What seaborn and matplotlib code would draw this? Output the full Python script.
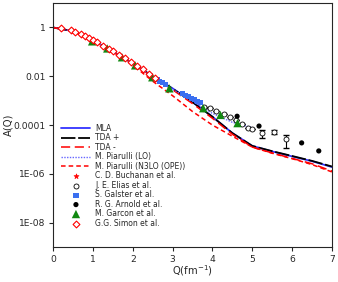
import numpy as np
import pandas as pd
import matplotlib
matplotlib.use("Agg")
import matplotlib.pyplot as plt
import seaborn as sns

# ---- theory curves (Q in fm^-1, A(Q)) ----
q_main = [0, 0.5, 1, 1.5, 2, 2.5, 3, 3.5, 4, 4.5, 5, 5.5, 6, 6.5, 7]
a_mla = [1.0, 0.71, 0.30, 0.105, 0.034, 0.010, 3.2e-3, 8.9e-4, 2.2e-4, 4.7e-5,
         1.4e-5, 8.3e-6, 5.2e-6, 3.3e-6, 1.9e-6]
a_tdap = [1.0, 0.71, 0.30, 0.105, 0.034, 0.010, 3.1e-3, 8.7e-4, 2.2e-4, 4.7e-5,
          1.4e-5, 8.5e-6, 5.4e-6, 3.4e-6, 2.0e-6]
a_tdam = [1.0, 0.71, 0.30, 0.104, 0.033, 0.0095, 2.8e-3, 7.6e-4, 1.9e-4, 4.2e-5,
          1.25e-5, 7.2e-6, 4.3e-6, 2.6e-6, 1.3e-6]
q_lo = [0, 0.5, 1, 1.5, 2, 2.5, 3, 3.5, 4, 4.5, 5]
a_lo = [1.0, 0.71, 0.30, 0.105, 0.034, 0.0098, 3.0e-3, 9.5e-4, 3.0e-4, 1.3e-4, 7.8e-5]
q_n3 = [0, 0.5, 1, 1.5, 2, 2.5, 3, 3.5, 4, 4.5, 5, 5.5, 6, 6.5, 7]
a_n3 = [1.0, 0.70, 0.29, 0.098, 0.029, 6.3e-3, 1.6e-3, 3.6e-4, 1.0e-4, 3.5e-5,
        1.25e-5, 7.0e-6, 4.2e-6, 2.4e-6, 1.2e-6]

# ---- experimental data ----
q_buch = [0.5, 0.7, 0.9]
a_buch = [0.72, 0.52, 0.36]
q_elias = [3.8, 3.95, 4.1, 4.3, 4.45, 4.6, 4.75, 4.9, 5.0, 5.25, 5.55, 5.85]
a_elias = [5.6e-4, 4.8e-4, 3.8e-4, 2.8e-4, 2.1e-4, 1.6e-4, 1.1e-4, 7.9e-5,
           7.0e-5, 4.7e-5, 5.1e-5, 2.7e-5]
e_elias_lo = [0, 0, 0, 0, 0, 0, 0, 0, 0, 1.7e-5, 8e-6, 1.5e-5]
e_elias_hi = [0, 0, 0, 0, 0, 0, 0, 0, 0, 1.6e-5, 1.2e-5, 1.3e-5]
q_galster = [2.55, 2.62, 2.68, 2.75, 2.82, 3.25, 3.32, 3.4, 3.48, 3.55, 3.62, 3.7]
a_galster = [8.3e-3, 7.2e-3, 6.3e-3, 5.4e-3, 4.7e-3, 1.9e-3, 1.66e-3, 1.45e-3,
             1.26e-3, 1.1e-3, 9.5e-4, 8.3e-4]
q_arnold = [4.62, 5.17, 6.24, 6.67]
a_arnold = [2.3e-4, 9.1e-5, 1.86e-5, 8.7e-6]
q_garcon = [0.98, 1.36, 1.73, 2.06, 2.49, 2.92, 3.77, 4.2, 4.63]
a_garcon = [0.27, 0.138, 0.060, 0.028, 9.1e-3, 3.2e-3, 4.9e-4, 2.6e-4, 1.2e-4]
q_simon = [0.2, 0.45, 0.55, 0.7, 0.8, 0.9, 1.0, 1.1, 1.25, 1.4, 1.5, 1.65,
           1.8, 1.95, 2.1, 2.25, 2.4, 2.55]
a_simon = [0.95, 0.76, 0.66, 0.52, 0.44, 0.36, 0.30, 0.245, 0.18, 0.13, 0.105,
           0.074, 0.054, 0.038, 0.027, 0.019, 0.0126, 0.0089]

xticks = [0, 1, 2, 3, 4, 5, 6, 7]
yticks = [1, 1e-2, 1e-4, 1e-6, 1e-8]
ytick_labels = ["1", "0.01", "0.0001", "1E-06", "1E-08"]

sns.set_style("ticks")
plt.rcParams['font.family'] = ['DejaVu Sans']

fig = plt.figure(figsize=(3.38, 2.82), dpi=100)
ax = fig.add_axes([0.157, 0.124, 0.825, 0.865])

def line(q, a, label, **kw):
    df = pd.DataFrame({"Q": q, "A": a})
    sns.lineplot(data=df, x="Q", y="A", ax=ax, label=label, **kw)

line(q_main, a_mla, "MLA", color="#3333ff", lw=1.3)
line(q_main, a_tdap, "TDA +", color="black", lw=1.3, dashes=(8, 1.5))
line(q_main, a_tdam, "TDA -", color="red", lw=1.1, dashes=(6, 3))
line(q_lo, a_lo, "M. Piarulli (LO)", color="#6666ff", lw=1.0, dashes=(1, 1))
line(q_n3, a_n3, "M. Piarulli (N3LO (OPE))", color="red", lw=1.1, dashes=(3, 2))

def pts(q, a, label, **kw):
    df = pd.DataFrame({"Q": q, "A": a})
    sns.scatterplot(data=df, x="Q", y="A", ax=ax, label=label, **kw)

pts(q_buch, a_buch, "C. D. Buchanan et al.", marker="*", color="red", s=14,
    edgecolor="red", linewidth=0.5, zorder=3)
ax.errorbar(q_elias, a_elias, yerr=[e_elias_lo, e_elias_hi], fmt="none",
            ecolor="black", elinewidth=0.8, capsize=2, zorder=3)
pts(q_elias, a_elias, "J. E. Elias et al.", marker="o", facecolor="white",
    edgecolor="black", s=13, linewidth=0.6, zorder=4)
pts(q_galster, a_galster, "S. Galster et al.", marker="s", color="#3a6ff0",
    s=14, edgecolor="none", zorder=4)
pts(q_arnold, a_arnold, "R. G. Arnold et al.", marker="o", color="black",
    s=14, edgecolor="none", zorder=4)
pts(q_garcon, a_garcon, "M. Garcon et al.", marker="^", color="#118811",
    s=36, edgecolor="none", zorder=4)
pts(q_simon, a_simon, "G.G. Simon et al.", marker="D", facecolor="white",
    edgecolor="red", s=12, linewidth=0.8, zorder=5)

ax.set_yscale("log")
ax.set_xlim(0, 7)
ax.set_ylim(1e-9, 10)
ax.set_xticks(xticks)
ax.set_xticklabels([str(t) for t in xticks], fontsize=6.6)
ax.set_yticks(yticks)
ax.set_yticklabels(ytick_labels, fontsize=6.6)
ax.yaxis.set_minor_locator(matplotlib.ticker.NullLocator())
ax.tick_params(axis="both", length=3, width=0.8, pad=2.5, direction="out",
               top=False, right=False)
for sp in ax.spines.values():
    sp.set_visible(True)
    sp.set_linewidth(0.8)
ax.set_xlabel("Q(fm$^{-1}$)", fontsize=7.2)
ax.set_ylabel("A(Q)", fontsize=7.2)
ax.xaxis.set_label_coords(0.5, -0.068)
ax.yaxis.set_label_coords(-0.143, 0.5)
ax.xaxis.label.set_va("top")

leg = ax.legend(loc="lower left", bbox_to_anchor=(0.03, 0.08), frameon=False,
                fontsize=5.5, handlelength=3.8, handletextpad=0.65,
                labelspacing=0.06, borderaxespad=0, borderpad=0)

fig.savefig("out.png", dpi=100)
